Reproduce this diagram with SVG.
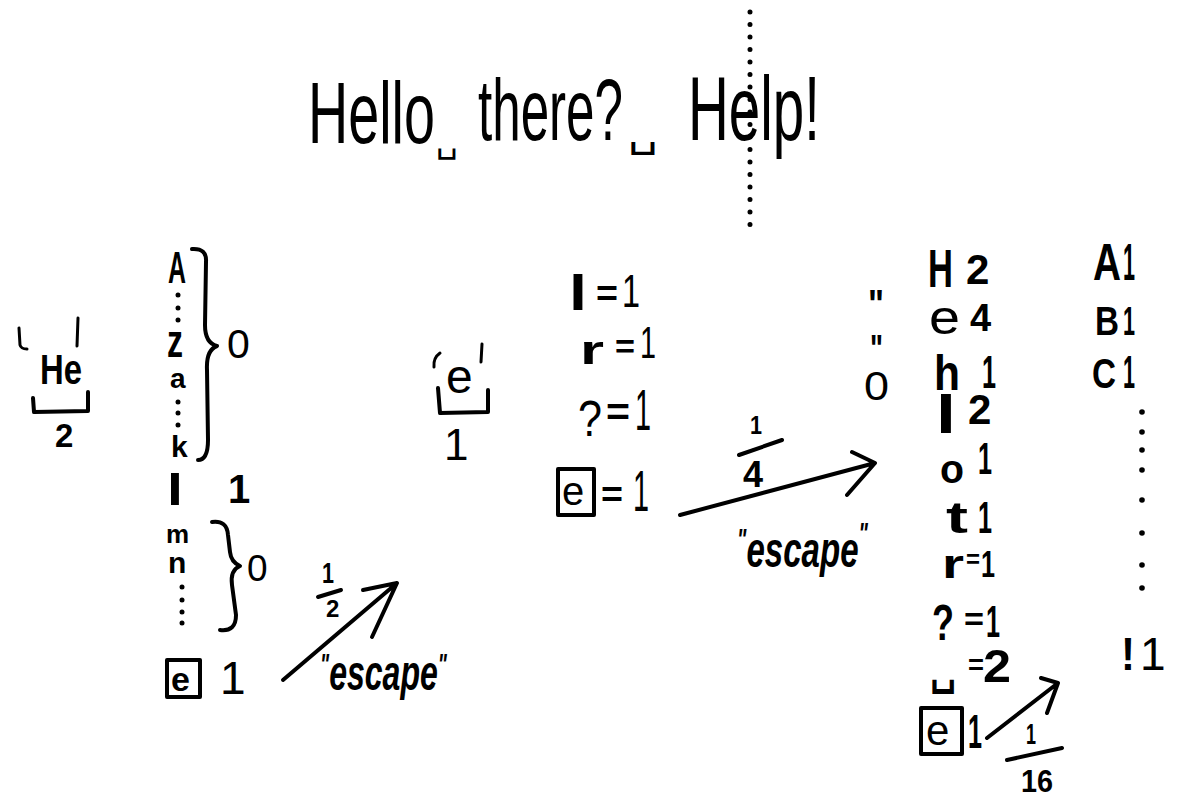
<svg xmlns="http://www.w3.org/2000/svg" width="1186" height="798" viewBox="0 0 1186 798">
<defs>
<style>
.t{font-family:"Liberation Sans",Arial,sans-serif;fill:#000}
.b{font-weight:bold}
.i{font-style:italic;font-weight:bold}
.sym{font-family:"DejaVu Sans",sans-serif;fill:#000}
.s{fill:none;stroke:#000;stroke-width:4;stroke-linecap:round;stroke-linejoin:round}
.thin{stroke-width:3}
.dots{fill:none;stroke:#000;stroke-width:5;stroke-linecap:round;stroke-dasharray:0 12.5}
.dot{fill:#000}
</style>
</defs>
<rect width="1186" height="798" fill="#fff"/>

<g id="title">
<text class="t" x="308" y="143" font-size="88" textLength="127" lengthAdjust="spacingAndGlyphs">Hello</text>
<text class="sym" x="436" y="152" font-size="34" textLength="22" lengthAdjust="spacingAndGlyphs">␣</text>
<text class="t" x="478" y="140" font-size="88" textLength="145" lengthAdjust="spacingAndGlyphs">there?</text>
<text class="sym" x="628" y="146" font-size="40" textLength="30" lengthAdjust="spacingAndGlyphs">␣</text>
<text class="t" x="688" y="140" font-size="90" textLength="132" lengthAdjust="spacingAndGlyphs">Help!</text>
</g>

<g id="divider">
<line class="dots" x1="750" y1="12" x2="750" y2="225"/>
</g>

<g id="context-He">
<path class="s thin" d="M19,328 L20,345 Q21,349 27,349"/>
<text class="t b" x="40" y="384" font-size="42" textLength="42" lengthAdjust="spacingAndGlyphs">He</text>
<path class="s thin" d="M78,318 L77,346"/>
<path class="s" d="M33,398 L34,412 L88,411 L88,392"/>
<text class="t b" x="55" y="447" font-size="33">2</text>
</g>

<g id="order2-table">
<text class="t b" x="168" y="283" font-size="44" textLength="18" lengthAdjust="spacingAndGlyphs">A</text>
<circle class="dot" cx="178" cy="295" r="2.5"/>
<circle class="dot" cx="178" cy="308" r="2.5"/>
<circle class="dot" cx="178" cy="320" r="2.5"/>
<text class="t b" x="167" y="357" font-size="46" textLength="16" lengthAdjust="spacingAndGlyphs">z</text>
<text class="t b" x="170" y="388" font-size="28">a</text>
<circle class="dot" cx="178" cy="402" r="2.5"/>
<circle class="dot" cx="178" cy="413" r="2.5"/>
<circle class="dot" cx="178" cy="425" r="2.5"/>
<text class="t b" x="171" y="457" font-size="30">k</text>
<path class="s" d="M192,249 Q207,248 206,262 L205,325 Q205,343 217,346 Q206,350 207,370 L208,440 Q208,460 198,460"/>
<text class="t" x="227" y="358" font-size="41">0</text>
<text class="t b" x="167" y="505" font-size="44" textLength="16" lengthAdjust="spacingAndGlyphs">l</text>
<text class="t b" x="228" y="503" font-size="40">1</text>
<text class="t b" x="166" y="543" font-size="26">m</text>
<text class="t b" x="168" y="573" font-size="30">n</text>
<circle class="dot" cx="182" cy="587" r="2.5"/>
<circle class="dot" cx="182" cy="600" r="2.5"/>
<circle class="dot" cx="182" cy="612" r="2.5"/>
<circle class="dot" cx="182" cy="623" r="2.5"/>
<path class="s" d="M212,522 Q227,520 228,535 L230,552 Q231,562 240,566 Q230,570 232,585 L236,615 Q236,632 220,630"/>
<text class="t" x="247" y="581" font-size="37">0</text>
<rect class="s" x="167" y="660" width="33" height="37"/>
<text class="t b" x="171" y="691" font-size="34">e</text>
<text class="t" x="220" y="694" font-size="46">1</text>
</g>

<g id="context-e">
<path class="s thin" d="M440,353 Q433,358 434,367"/>
<text class="t" x="446" y="393" font-size="48">e</text>
<path class="s thin" d="M482,344 L481,362"/>
<path class="s" d="M438,388 L440,413 L488,412 L488,390"/>
<text class="t" x="444" y="460" font-size="44">1</text>
</g>

<g id="order1-table">
<text class="t b" x="569" y="310" font-size="50" textLength="18" lengthAdjust="spacingAndGlyphs">l</text>
<text class="t b" x="596" y="306" font-size="36" textLength="22" lengthAdjust="spacingAndGlyphs">=</text>
<text class="t" x="622" y="307" font-size="46" textLength="18" lengthAdjust="spacingAndGlyphs">1</text>
<text class="t b" x="580" y="364" font-size="40" textLength="24" lengthAdjust="spacingAndGlyphs">r</text>
<text class="t b" x="615" y="358" font-size="34" textLength="20" lengthAdjust="spacingAndGlyphs">=</text>
<text class="t" x="640" y="358" font-size="44" textLength="16" lengthAdjust="spacingAndGlyphs">1</text>
<text class="t" x="578" y="436" font-size="50" textLength="24" lengthAdjust="spacingAndGlyphs">?</text>
<text class="t b" x="606" y="425" font-size="38" textLength="24" lengthAdjust="spacingAndGlyphs">=</text>
<text class="t" x="635" y="430" font-size="58" textLength="16" lengthAdjust="spacingAndGlyphs">1</text>
<rect class="s" x="558" y="469" width="36" height="46"/>
<text class="t" x="562" y="505" font-size="40">e</text>
<text class="t b" x="601" y="507" font-size="36" textLength="22" lengthAdjust="spacingAndGlyphs">=</text>
<text class="t" x="633" y="511" font-size="58" textLength="16" lengthAdjust="spacingAndGlyphs">1</text>
</g>

<g id="ditto">
<text class="t b" x="868" y="318" font-size="40" textLength="16" lengthAdjust="spacingAndGlyphs">"</text>
<text class="t b" x="870" y="362" font-size="38" textLength="13" lengthAdjust="spacingAndGlyphs">"</text>
<text class="t" x="864" y="400" font-size="40" textLength="25" lengthAdjust="spacingAndGlyphs">0</text>
</g>

<g id="order0-table">
<text class="t b" x="928" y="287" font-size="54" textLength="25" lengthAdjust="spacingAndGlyphs">H</text>
<text class="t b" x="966" y="284" font-size="42">2</text>
<text class="t" x="929" y="334" font-size="48" textLength="31" lengthAdjust="spacingAndGlyphs">e</text>
<text class="t b" x="970" y="331" font-size="38">4</text>
<text class="t b" x="934" y="390" font-size="50" textLength="26" lengthAdjust="spacingAndGlyphs">h</text>
<text class="t b" x="982" y="388" font-size="46" textLength="14" lengthAdjust="spacingAndGlyphs">1</text>
<text class="t b" x="936" y="433" font-size="54" textLength="20" lengthAdjust="spacingAndGlyphs">l</text>
<text class="t b" x="968" y="424" font-size="42">2</text>
<text class="t b" x="940" y="483" font-size="40" textLength="24" lengthAdjust="spacingAndGlyphs">o</text>
<text class="t b" x="978" y="474" font-size="44" textLength="14" lengthAdjust="spacingAndGlyphs">1</text>
<text class="t b" x="946" y="533" font-size="44" textLength="22" lengthAdjust="spacingAndGlyphs">t</text>
<text class="t b" x="978" y="533" font-size="44" textLength="14" lengthAdjust="spacingAndGlyphs">1</text>
<text class="t b" x="942" y="578" font-size="40" textLength="22" lengthAdjust="spacingAndGlyphs">r</text>
<text class="t b" x="966" y="568" font-size="26" textLength="14" lengthAdjust="spacingAndGlyphs">=</text>
<text class="t b" x="981" y="577" font-size="36" textLength="14" lengthAdjust="spacingAndGlyphs">1</text>
<text class="t b" x="932" y="640" font-size="50" textLength="22" lengthAdjust="spacingAndGlyphs">?</text>
<text class="t b" x="964" y="630" font-size="32" textLength="20" lengthAdjust="spacingAndGlyphs">=</text>
<text class="t b" x="986" y="637" font-size="44" textLength="14" lengthAdjust="spacingAndGlyphs">1</text>
<text class="sym" x="930" y="684" font-size="44" font-weight="bold" textLength="26" lengthAdjust="spacingAndGlyphs">␣</text>
<text class="t b" x="968" y="674" font-size="28" textLength="16" lengthAdjust="spacingAndGlyphs">=</text>
<text class="t b" x="983" y="682" font-size="46" textLength="28" lengthAdjust="spacingAndGlyphs">2</text>
<rect class="s" x="921" y="708" width="41" height="46"/>
<text class="t" x="926" y="745" font-size="42">e</text>
<text class="t b" x="968" y="748" font-size="48" textLength="14" lengthAdjust="spacingAndGlyphs">1</text>
</g>

<g id="ascii-table">
<text class="t b" x="1093" y="280" font-size="52" textLength="28" lengthAdjust="spacingAndGlyphs">A</text>
<text class="t b" x="1123" y="280" font-size="52" textLength="12" lengthAdjust="spacingAndGlyphs">1</text>
<text class="t b" x="1095" y="335" font-size="40" textLength="24" lengthAdjust="spacingAndGlyphs">B</text>
<text class="t b" x="1123" y="335" font-size="40" textLength="12" lengthAdjust="spacingAndGlyphs">1</text>
<text class="t b" x="1092" y="388" font-size="42" textLength="24" lengthAdjust="spacingAndGlyphs">C</text>
<text class="t b" x="1123" y="388" font-size="46" textLength="12" lengthAdjust="spacingAndGlyphs">1</text>
<circle class="dot" cx="1142" cy="412" r="2.8"/>
<circle class="dot" cx="1142" cy="432" r="2.8"/>
<circle class="dot" cx="1142" cy="450" r="2.8"/>
<circle class="dot" cx="1142" cy="470" r="2.8"/>
<circle class="dot" cx="1142" cy="500" r="2.8"/>
<circle class="dot" cx="1142" cy="533" r="2.8"/>
<circle class="dot" cx="1142" cy="565" r="2.8"/>
<circle class="dot" cx="1142" cy="588" r="2.8"/>
<text class="t b" x="1121" y="670" font-size="46" textLength="14" lengthAdjust="spacingAndGlyphs">!</text>
<text class="t" x="1140" y="670" font-size="46">1</text>
</g>

<g id="connectors">
<path class="s" d="M283,680 L397,583 M363,590 L397,583 L372,637"/>
<path class="s" d="M680,515 L875,463 M852,452 L875,463 L847,495"/>
<path class="s" d="M987,738 L1058,683 M1041,678 L1058,683 L1047,713"/>
</g>

<g id="labels">
<text class="t b" x="322" y="583" font-size="30" textLength="12" lengthAdjust="spacingAndGlyphs">1</text>
<path class="s" d="M318,597 L341,590"/>
<text class="t b" x="326" y="617" font-size="24">2</text>
<text class="t i" x="320" y="690" font-size="50" textLength="127" lengthAdjust="spacingAndGlyphs"><tspan font-size="30" dy="-16">"</tspan><tspan dy="16">escape</tspan><tspan font-size="30" dy="-16">"</tspan></text>
<text class="t b" x="750" y="434" font-size="26" textLength="12" lengthAdjust="spacingAndGlyphs">1</text>
<path class="s" d="M739,455 L782,440"/>
<text class="t b" x="743" y="487" font-size="36">4</text>
<text class="t i" x="737" y="567" font-size="50" textLength="131" lengthAdjust="spacingAndGlyphs"><tspan font-size="30" dy="-18">"</tspan><tspan dy="18">escape</tspan><tspan font-size="30" dy="-24">"</tspan></text>
<text class="t b" x="1026" y="744" font-size="30" textLength="10" lengthAdjust="spacingAndGlyphs">1</text>
<path class="s" d="M1007,760 L1062,748"/>
<text class="t b" x="1021" y="792" font-size="32" textLength="32" lengthAdjust="spacingAndGlyphs">16</text>
</g>
</svg>
